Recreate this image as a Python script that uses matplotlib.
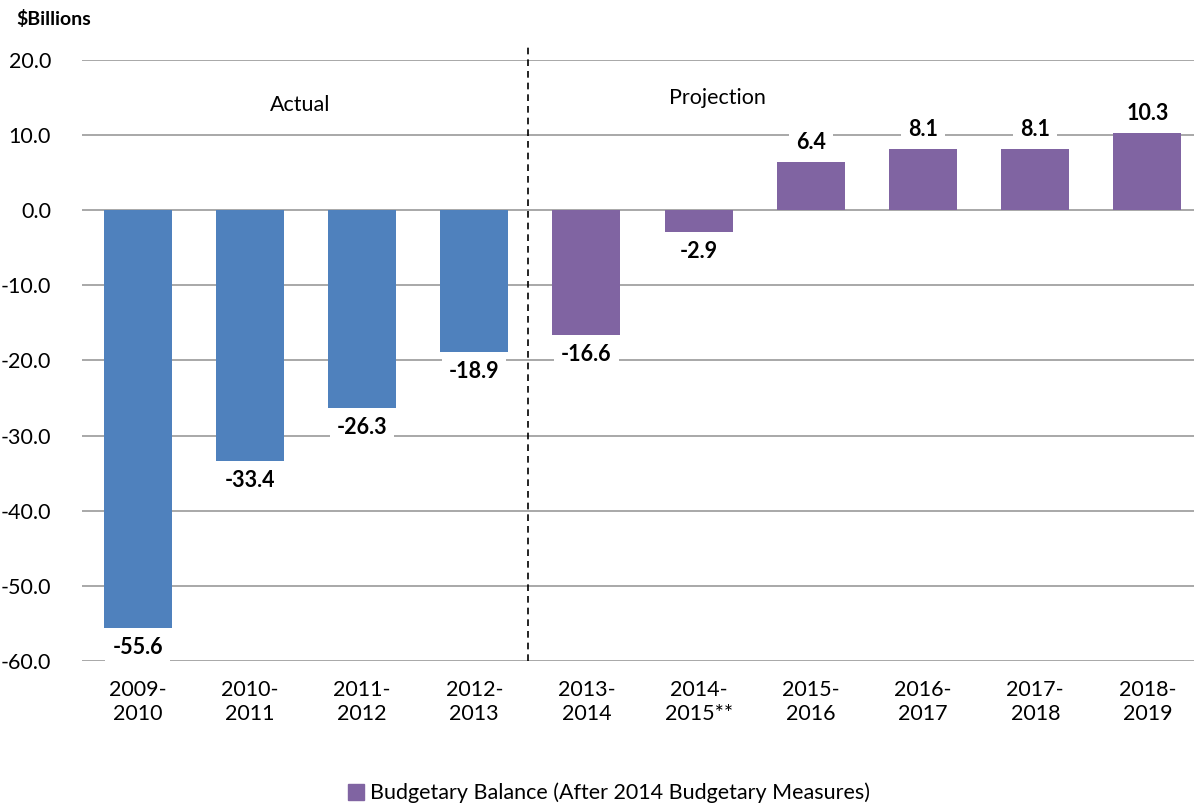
import matplotlib.pyplot as plt
import numpy as np

plt.rcParams['font.family'] = ['Lato', 'DejaVu Sans']

years = ['2009-\n2010', '2010-\n2011', '2011-\n2012', '2012-\n2013', '2013-\n2014',
         '2014-\n2015**', '2015-\n2016', '2016-\n2017', '2017-\n2018', '2018-\n2019']
balance = [-55.6, -33.4, -26.3, -18.9, -16.6, -2.9, 6.4, 8.1, 8.1, 10.3]
n_actual = 4

blue = '#4F81BD'
purple = '#8064A2'
fs = 15.5

fig = plt.figure(figsize=(11.94, 8.05), dpi=100)
# plot area runs a little past the right edge of the picture, like the original
ax = fig.add_axes([0.0683, 0.179, 0.9397, 0.7465])

x = np.arange(len(years))
colors = [blue] * n_actual + [purple] * (len(years) - n_actual)
ax.bar(x, balance, width=0.606, color=colors, zorder=2)

ax.set_xlim(-0.5, len(years) - 0.5)
ax.set_ylim(-60, 20)
ax.set_yticks(np.arange(-60, 21, 10))
ax.set_yticklabels(['%.1f' % v for v in np.arange(-60, 21, 10)], fontsize=fs)
ax.set_xticks(x)
ax.set_xticklabels(years, fontsize=fs, linespacing=1.25)
ax.tick_params(length=0)
ax.tick_params(axis='x', pad=14)
ax.tick_params(axis='y', pad=22)
for s in ax.spines.values():
    s.set_visible(False)
ax.yaxis.grid(True, color='#999999', linewidth=1.2, zorder=0)
ax.set_axisbelow(True)

# value labels
for xi, v in zip(x, balance):
    off = 2.6 if v > 0 else -2.6
    ax.text(xi, v + off, '%.1f' % v, ha='center', va='center', fontsize=fs,
            fontweight='bold', zorder=4,
            bbox=dict(facecolor='white', edgecolor='none', pad=5))

# actual / projection split
xs = n_actual - 0.52
ax.plot([xs, xs], [-60, 22], color='black', linestyle='--',
        linewidth=1.2, dashes=(4, 3), clip_on=False, zorder=3)
ax.text(1.45, 14.0, 'Actual', ha='center', va='center', fontsize=fs)
ax.text(5.17, 14.9, 'Projection', ha='center', va='center', fontsize=fs)

fig.text(0.014, 0.977, '$Billions', fontsize=14, fontweight='bold', ha='left', va='center')

# legend only shows the purple series
h = plt.Rectangle((0, 0), 1, 1, color=purple)
fig.legend([h], ['Budgetary Balance (After 2014 Budgetary Measures)'], loc='center',
           bbox_to_anchor=(0.51, 0.015), frameon=False, fontsize=fs,
           handlelength=0.75, handleheight=0.75, handletextpad=0.3)

fig.savefig('out.png', dpi=100)
